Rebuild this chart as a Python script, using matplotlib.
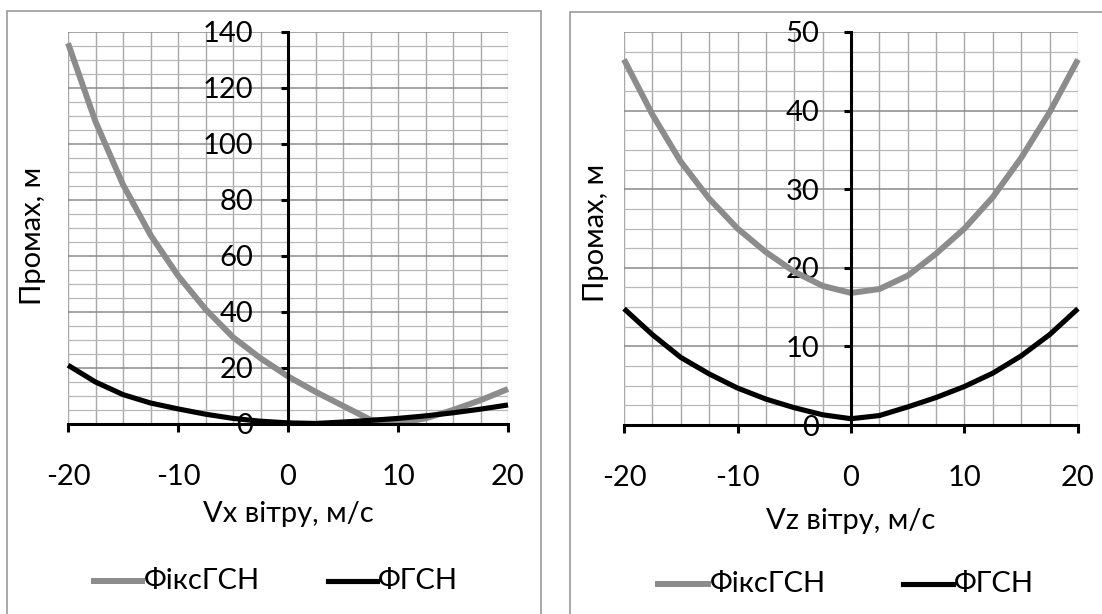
import matplotlib
matplotlib.use("Agg")
import matplotlib.pyplot as plt
from matplotlib.patches import Rectangle
from matplotlib.lines import Line2D
import numpy as np

plt.rcParams['font.family'] = ['Lato', 'DejaVu Sans']

# ---- data ----
vx = [-20, -17.5, -15, -12.5, -10, -7.5, -5, -2.5, 0, 2.5, 5, 7.5, 10, 12.5, 15, 17.5, 20]
vx_fiks = [136, 108, 85.5, 67.5, 53, 41, 31, 23.5, 17, 11.5, 6.5, 1.5, 0.3, 2.0, 5.0, 8.5, 12.5]
vx_fgsn = [21, 15, 10.5, 7.5, 5.4, 3.5, 2.0, 1.0, 0.4, 0.2, 0.7, 1.3, 2.0, 2.9, 4.0, 5.3, 6.8]

vz = [-20, -17.5, -15, -12.5, -10, -7.5, -5, -2.5, 0, 2.5, 5, 7.5, 10, 12.5, 15, 17.5, 20]
vz_fiks = [46.5, 39.5, 33.5, 28.8, 25.0, 22.0, 19.5, 17.7, 16.8, 17.3, 19.0, 21.8, 25.0, 29.0, 34.0, 39.8, 46.5]
vz_fgsn = [14.8, 11.5, 8.6, 6.5, 4.7, 3.3, 2.2, 1.3, 0.8, 1.2, 2.3, 3.5, 4.9, 6.6, 8.8, 11.5, 14.8]

series_names = ['ФіксГСН', 'ФГСН']
xlabels = ['Vx вітру, м/с', 'Vz вітру, м/с']
ylabel = 'Промах, м'

W, H = 1102, 614
fig = plt.figure(figsize=(W / 100, H / 100), dpi=100)

def fx(px):
    return px / W

def fy(py):
    return 1 - py / H

# panel frames
for (x0, y0, x1, y1) in [(7, 11, 541, 640), (570, 12, 1130, 640)]:
    fig.patches.append(Rectangle((fx(x0), fy(y1)), fx(x1 - x0), (y1 - y0) / H,
                                 transform=fig.transFigure, fill=False,
                                 edgecolor='#9a9a9a', lw=1.2, zorder=0))

GRAY = '#8c8c8c'
BLACK = '#000000'
FS = 21
LW_G = 4.3
LW_B = 3.7

def make_panel(box, x, y1, y2, ymax, ymajor, yminor, xlab, xlab_y, leg_y, leg_x, ylab_x, ylab_y, ypad):
    l, t, r, b = box
    ax = fig.add_axes([fx(l), fy(b), fx(r - l), (b - t) / H])
    ax.set_xlim(-20, 20)
    ax.set_ylim(0, ymax)
    # grid
    for gx in np.arange(-20, 20.01, 2.5):
        ax.axvline(gx, color='#a8a8a8', lw=1.0, zorder=1)
    for gy in np.arange(0, ymax + 0.01, yminor):
        is_major = abs(gy / ymajor - round(gy / ymajor)) < 1e-6
        ax.axhline(gy, color='#8a8a8a' if is_major else '#b8b8b8',
                   lw=1.1 if is_major else 0.9, zorder=1)
    for s in ['top', 'right']:
        ax.spines[s].set_visible(False)
    ax.spines['left'].set_position(('data', 0))
    ax.spines['bottom'].set_position(('data', 0))
    for s in ['left', 'bottom']:
        ax.spines[s].set_linewidth(2.2)
        ax.spines[s].set_color('black')
        ax.spines[s].set_zorder(4)
    ax.set_xticks([-20, -10, 0, 10, 20])
    ax.set_yticks(np.arange(0, ymax + 0.01, ymajor))
    ax.tick_params(axis='x', direction='out', length=6, width=2.2, pad=23,
                   labelsize=FS, colors='black')
    ax.tick_params(axis='y', direction='out', length=5, width=2.2, pad=ypad,
                   labelsize=FS, colors='black')
    ax.set_xticklabels([str(v) for v in [-20, -10, 0, 10, 20]])
    ax.set_yticklabels([str(int(v)) for v in np.arange(0, ymax + 0.01, ymajor)])
    ax.plot(x, y1, color=GRAY, lw=LW_G, zorder=3, clip_on=False, solid_capstyle='butt',
            solid_joinstyle='round')
    ax.plot(x, y2, color=BLACK, lw=LW_B, zorder=3, clip_on=False, solid_capstyle='butt',
            solid_joinstyle='round')
    ax.set_facecolor('none')
    fig.text(fx((l + r) / 2), fy(xlab_y), xlab, ha='center', va='center', fontsize=FS)
    fig.text(fx(ylab_x), fy(ylab_y), ylabel, ha='center', va='center', rotation=90, fontsize=FS)
    # legend
    (a0, a1, t1, b0, b1, t2) = leg_x
    fig.add_artist(Line2D([fx(a0), fx(a1)], [fy(leg_y), fy(leg_y)], color=GRAY, lw=LW_G,
                          transform=fig.transFigure))
    fig.text(fx(t1), fy(leg_y), series_names[0], ha='left', va='center', fontsize=FS)
    fig.add_artist(Line2D([fx(b0), fx(b1)], [fy(leg_y), fy(leg_y)], color=BLACK, lw=LW_B,
                          transform=fig.transFigure))
    fig.text(fx(t2), fy(leg_y), series_names[1], ha='left', va='center', fontsize=FS)
    return ax

make_panel((68, 32, 508, 424), vx, vx_fiks, vx_fgsn, 140, 20, 5, xlabels[0],
           514, 581, (94, 142, 144, 328, 377, 378), 33, 236, 20)
make_panel((624, 32, 1078, 425), vz, vz_fiks, vz_fgsn, 50, 10, 2.5, xlabels[1],
           521, 584, (658, 708, 710, 903, 953, 954), 596, 233, 18)

fig.savefig('out.png', dpi=100)
